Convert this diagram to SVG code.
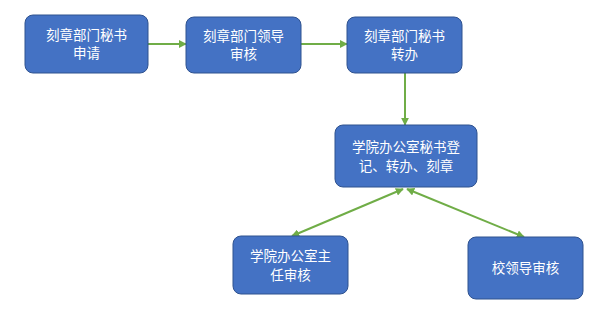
<svg xmlns="http://www.w3.org/2000/svg" width="591" height="323" viewBox="0 0 591 323">
<style>
.box{fill:#4472C4;stroke:#2F528F;stroke-width:1}
.t{font-family:"Liberation Sans","Noto Sans CJK SC",sans-serif;font-size:13.5px;fill:#fff;text-anchor:middle}
.c{stroke:#70AD47;stroke-width:2;fill:none}
</style>
<defs>
<marker id="ah" viewBox="0 0 10 10" refX="9" refY="5" markerWidth="4" markerHeight="4" orient="auto-start-reverse" markerUnits="strokeWidth">
<path d="M0,0 L10,5 L0,10 z" fill="#70AD47"/>
</marker>
</defs>
<rect width="591" height="323" fill="#fff"/>
<g id="connectors">
<line class="c" x1="148" y1="44" x2="186" y2="44" marker-end="url(#ah)"/>
<line class="c" x1="301" y1="44" x2="347" y2="44" marker-end="url(#ah)"/>
<line class="c" x1="405" y1="73" x2="405" y2="125" marker-end="url(#ah)"/>
<line class="c" x1="292" y1="236" x2="403" y2="189" marker-start="url(#ah)" marker-end="url(#ah)"/>
<line class="c" x1="407" y1="189" x2="524" y2="237" marker-start="url(#ah)" marker-end="url(#ah)"/>
</g>
<g id="n1">
<rect class="box" x="25" y="15" width="123" height="58" rx="8"/>
<text class="t" x="86.5" y="40">刻章部门秘书</text>
<text class="t" x="86.5" y="58">申请</text>
</g>
<g id="n2">
<rect class="box" x="186" y="17" width="115" height="56" rx="8"/>
<text class="t" x="243.5" y="41">刻章部门领导</text>
<text class="t" x="243.5" y="59">审核</text>
</g>
<g id="n3">
<rect class="box" x="347" y="17" width="115" height="56" rx="8"/>
<text class="t" x="404.5" y="41">刻章部门秘书</text>
<text class="t" x="404.5" y="59">转办</text>
</g>
<g id="n4">
<rect class="box" x="335" y="125" width="142" height="62" rx="8"/>
<text class="t" x="406" y="152">学院办公室秘书登</text>
<text class="t" x="406" y="171">记、转办、刻章</text>
</g>
<g id="n5">
<rect class="box" x="233" y="236" width="115" height="58" rx="8"/>
<text class="t" x="290.5" y="261">学院办公室主</text>
<text class="t" x="290.5" y="280">任审核</text>
</g>
<g id="n6">
<rect class="box" x="468" y="237" width="115" height="62" rx="8"/>
<text class="t" x="525.5" y="273">校领导审核</text>
</g>
</svg>
